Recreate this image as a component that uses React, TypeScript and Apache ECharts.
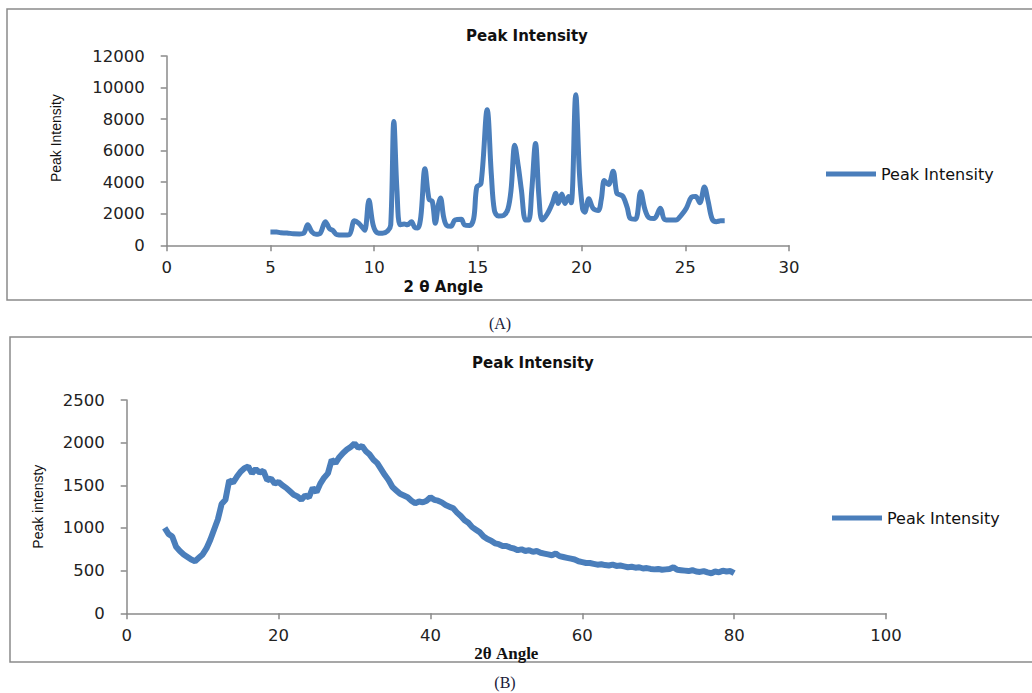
import React, { useEffect, useRef } from "react";
import * as echarts from "echarts";

const seriesName = "Peak Intensity";
const titleText = "Peak Intensity";
const xNameA = "2 θ Angle";
const yNameA = "Peak Intensity";
const xNameB = "2θ Angle";
const yNameB = "Peak intensty";
const captionA = "(A)";
const captionB = "(B)";

// Panel A: [2θ, intensity]
const dataA: number[][] = [
  [5.0, 850], [5.3, 840], [5.5, 790], [5.8, 780], [6.1, 730], [6.4, 720], [6.6, 760],
  [6.8, 1300], [7.0, 850], [7.2, 700], [7.4, 760], [7.65, 1500], [7.85, 1050], [8.0, 950],
  [8.2, 680], [8.5, 650], [8.8, 680], [9.05, 1550], [9.25, 1400], [9.45, 1100], [9.55, 950],
  [9.75, 2850], [9.95, 1300], [10.15, 800], [10.4, 760], [10.65, 900], [10.8, 1300],
  [10.95, 7850], [11.1, 3500], [11.25, 1300], [11.45, 1350], [11.6, 1300], [11.8, 1500],
  [11.95, 1150], [12.1, 1100], [12.25, 1800], [12.45, 4850], [12.65, 2900], [12.8, 2800],
  [12.95, 1400], [13.1, 2600], [13.2, 3000], [13.35, 1800], [13.5, 1250], [13.7, 1200],
  [13.9, 1600], [14.2, 1650], [14.35, 1300], [14.6, 1250], [14.8, 1700], [14.95, 3700],
  [15.15, 3900], [15.45, 8600], [15.65, 4500], [15.8, 2200], [16.0, 1850], [16.25, 1900],
  [16.45, 2300], [16.6, 3500], [16.78, 6350], [16.95, 5000], [17.1, 3500], [17.3, 1600],
  [17.45, 1600], [17.6, 3500], [17.78, 6450], [17.95, 3000], [18.1, 1600], [18.35, 2000],
  [18.6, 2700], [18.75, 3300], [18.88, 2650], [19.05, 3250], [19.2, 2650], [19.38, 3100],
  [19.5, 2700], [19.72, 9550], [19.9, 4500], [20.05, 2300], [20.15, 2100], [20.35, 2950],
  [20.55, 2350], [20.8, 2200], [20.95, 2900], [21.1, 4100], [21.3, 3850], [21.52, 4700],
  [21.7, 3300], [21.85, 3200], [22.0, 3100], [22.2, 2400], [22.35, 1700], [22.6, 1650],
  [22.85, 3400], [23.05, 2300], [23.25, 1750], [23.5, 1700], [23.8, 2350], [24.0, 1650],
  [24.3, 1600], [24.55, 1600], [24.8, 1900], [25.05, 2350], [25.3, 3050], [25.5, 3100],
  [25.7, 2700], [25.92, 3700], [26.1, 2800], [26.3, 1650], [26.5, 1500], [26.7, 1550],
  [26.9, 1550],
];

// Panel B: [2θ, intensity]
const dataB: number[][] = [
  [5.0, 1000], [5.5, 930], [6.0, 900], [6.5, 780], [7.0, 730], [7.5, 690], [8.0, 660],
  [8.5, 630], [9.0, 610], [9.5, 650], [10.0, 690], [10.5, 760], [11.0, 860], [11.5, 980],
  [12.0, 1100], [12.5, 1280], [13.0, 1330], [13.5, 1560], [14.0, 1530], [14.5, 1600],
  [15.0, 1660], [15.5, 1700], [16.0, 1720], [16.5, 1640], [17.0, 1690], [17.5, 1650],
  [18.0, 1670], [18.5, 1560], [19.0, 1580], [19.5, 1520], [20.0, 1540], [20.5, 1500],
  [21.0, 1470], [21.5, 1430], [22.0, 1390], [22.5, 1370], [23.0, 1330], [23.5, 1380],
  [24.0, 1360], [24.5, 1470], [25.0, 1420], [25.5, 1520], [26.0, 1590], [26.5, 1640],
  [27.0, 1800], [27.5, 1760], [28.0, 1830], [28.5, 1880], [29.0, 1920], [29.5, 1950],
  [30.0, 1990], [30.5, 1940], [31.0, 1960], [31.5, 1900], [32.0, 1860], [32.5, 1800],
  [33.0, 1760], [33.5, 1690], [34.0, 1620], [34.5, 1560], [35.0, 1480], [35.5, 1440],
  [36.0, 1400], [36.5, 1380], [37.0, 1360], [37.5, 1320], [38.0, 1290], [38.5, 1310],
  [39.0, 1300], [39.5, 1320], [40.0, 1360], [40.5, 1330], [41.0, 1320], [41.5, 1300],
  [42.0, 1270], [42.5, 1250], [43.0, 1230], [43.5, 1180], [44.0, 1140], [44.5, 1090],
  [45.0, 1060], [45.5, 1010], [46.0, 980], [46.5, 950], [47.0, 900], [47.5, 870],
  [48.0, 850], [48.5, 820], [49.0, 810], [49.5, 790], [50.0, 790], [50.5, 770],
  [51.0, 760], [51.5, 740], [52.0, 750], [52.5, 730], [53.0, 740], [53.5, 720],
  [54.0, 730], [54.5, 710], [55.0, 700], [55.5, 690], [56.0, 680], [56.5, 700],
  [57.0, 670], [57.5, 660], [58.0, 650], [58.5, 640], [59.0, 630], [59.5, 610],
  [60.0, 600], [60.5, 590], [61.0, 590], [61.5, 580], [62.0, 570], [62.5, 575],
  [63.0, 565], [63.5, 560], [64.0, 570], [64.5, 555], [65.0, 560], [65.5, 550],
  [66.0, 540], [66.5, 545], [67.0, 535], [67.5, 540], [68.0, 525], [68.5, 530],
  [69.0, 520], [69.5, 515], [70.0, 520], [70.5, 510], [71.0, 515], [71.5, 520],
  [72.0, 540], [72.5, 510], [73.0, 505], [73.5, 500], [74.0, 495], [74.5, 505],
  [75.0, 490], [75.5, 485], [76.0, 495], [76.5, 480], [77.0, 470], [77.5, 490],
  [78.0, 480], [78.5, 500], [79.0, 490], [79.5, 495], [80.0, 470],
];

const LINE = "#4a7ebb";
const AXIS = "#8a8a8a";
const LABEL_FONT = "DejaVu Sans";

export default function App() {
  const ref = useRef<HTMLDivElement>(null);
  useEffect(() => {
    if (!ref.current) return;
    const chart = echarts.init(ref.current, null, { renderer: "svg" });
    const axisLine = { show: true, lineStyle: { color: AXIS, width: 1.5 } };
    const axisTick = { show: true, length: 6, lineStyle: { color: AXIS, width: 1.5 } };
    const plain = (v: number) => String(v);
    const labelStyle = { fontFamily: LABEL_FONT, fontSize: 16.5, color: "#222", formatter: plain };
    const legendBase = {
      data: [seriesName], icon: "rect", itemWidth: 50, itemHeight: 5,
      itemStyle: { color: LINE }, lineStyle: { width: 0 },
      textStyle: { fontFamily: LABEL_FONT, fontSize: 16, color: "#111" },
    };
    const option: any = {
      animation: false,
      backgroundColor: "#fff",
      title: [
        {
          text: titleText, left: 522, top: 23, textAlign: "center",
          textStyle: { fontFamily: LABEL_FONT, fontWeight: "bold", fontSize: 15, color: "#111" },
        },
        {
          text: titleText, left: 528, top: 350, textAlign: "center",
          textStyle: { fontFamily: LABEL_FONT, fontWeight: "bold", fontSize: 15, color: "#111" },
        },
      ],
      legend: [
        { ...legendBase, left: 821, top: 161 },
        { ...legendBase, left: 827, top: 505 },
      ],
      grid: [
        { left: 166.7, top: 56, right: 243, bottom: 447.7 },
        { left: 126.7, top: 400, right: 146, bottom: 79.7 },
      ],
      xAxis: [
        {
          gridIndex: 0, type: "value", min: 0, max: 30, interval: 5,
          axisLine, axisTick, splitLine: { show: false },
          axisLabel: { ...labelStyle, margin: 14 },
          name: xNameA, nameLocation: "middle", nameGap: 34,
          nameTextStyle: { fontFamily: LABEL_FONT, fontWeight: "bold", fontSize: 15, color: "#111", padding: [0, 69, 0, 0] },
        },
        {
          gridIndex: 1, type: "value", min: 0, max: 100, interval: 20,
          axisLine, axisTick, splitLine: { show: false },
          axisLabel: { ...labelStyle, margin: 14 },
          name: xNameB, nameLocation: "middle", nameGap: 29,
          nameTextStyle: { fontFamily: "Liberation Serif", fontWeight: "bold", fontSize: 17, color: "#111" },
        },
      ],
      yAxis: [
        {
          gridIndex: 0, type: "value", min: 0, max: 12000, interval: 2000,
          axisLine, axisTick, splitLine: { show: false },
          axisLabel: { ...labelStyle, margin: 22 },
          name: yNameA, nameLocation: "middle", nameGap: 104,
          nameTextStyle: { fontFamily: "Liberation Sans", fontSize: 14, color: "#111", padding: [0, 0, 0, 25] },
        },
        {
          gridIndex: 1, type: "value", min: 0, max: 2500, interval: 500,
          axisLine, axisTick, splitLine: { show: false },
          axisLabel: { ...labelStyle, margin: 22 },
          name: yNameB, nameLocation: "middle", nameGap: 82,
          nameTextStyle: { fontFamily: "Liberation Sans", fontSize: 14, color: "#111" },
        },
      ],
      series: [
        {
          name: seriesName, type: "line", xAxisIndex: 0, yAxisIndex: 0,
          data: dataA, smooth: 0.35, symbol: "none",
          lineStyle: { color: LINE, width: 5 }, itemStyle: { color: LINE },
        },
        {
          name: seriesName, type: "line", xAxisIndex: 1, yAxisIndex: 1,
          data: dataB, symbol: "none",
          lineStyle: { color: LINE, width: 6 }, itemStyle: { color: LINE },
        },
      ],
      graphic: [
        {
          type: "rect", shape: { x: 7, y: 9, width: 1030, height: 291 },
          style: { fill: "none", stroke: AXIS, lineWidth: 1.5 }, silent: true,
        },
        {
          type: "rect", shape: { x: 10, y: 337, width: 1030, height: 325 },
          style: { fill: "none", stroke: AXIS, lineWidth: 1.5 }, silent: true,
        },
        {
          type: "text", x: 500, y: 323,
          style: { text: captionA, fill: "#1a1a3a", font: "16px 'Liberation Serif'", textAlign: "center", textVerticalAlign: "middle" },
        },
        {
          type: "text", x: 505, y: 682,
          style: { text: captionB, fill: "#1a1a3a", font: "16px 'Liberation Serif'", textAlign: "center", textVerticalAlign: "middle" },
        },
      ],
    };
    chart.setOption(option);
    return () => chart.dispose();
  }, []);
  return (
    <div
      ref={ref}
      style={{ position: "fixed", left: 0, top: 0, width: 1032, height: 693, background: "#fff" }}
    />
  );
}
